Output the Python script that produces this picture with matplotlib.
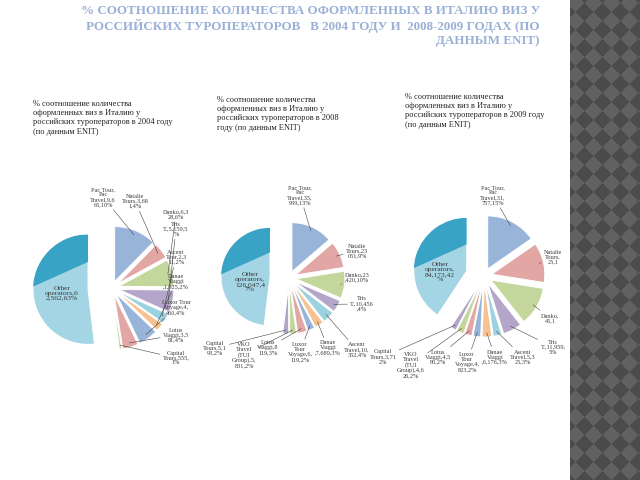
import numpy as np
import matplotlib.pyplot as plt
from matplotlib.patches import Polygon

plt.rcParams['font.family'] = ['Liberation Serif', 'DejaVu Serif']

"""-------------------------------- Data -----------------------------------------------"""

title = ('% СООТНОШЕНИЕ КОЛИЧЕСТВА ОФОРМЛЕННЫХ В ИТАЛИЮ ВИЗ У\n'
         'РОССИЙСКИХ ТУРОПЕРАТОРОВ   В 2004 ГОДУ И  2008-2009 ГОДАХ (ПО\n'
         'ДАННЫМ ENIT)')

header_2004 = ('% соотношение количества\nоформленных виз в Италию у\n'
               'российских туроператоров в 2004 году\n(по данным ENIT)')
header_2008 = ('% соотношение количества\nоформленных виз в Италию у\n'
               'российских туроператоров в 2008\nгоду (по данным ENIT)')
header_2009 = ('% соотношение количества\nоформленных виз в Италию у\n'
               'российских туроператоров в 2009 году\n(по данным ENIT)')

# clockwise from the top, "Other operators" last
values_2004 = [9665, 3681, 6328, 5159, 2311, 1925, 4460, 3581, 555, 40562]
labels_2004 = ['Pac Tour,\nPac\nTravel,9,6\n65,10%', 'Natalie\nTours,3,68\n1,4%',
               'Danko,6,3\n28,6%', 'Tris\nT.,5,159,5\n%', 'Ascent\nTour,2,3\n11,2%',
               'Danae\nViaggi\n,1,925,2%', 'Luxor Tour\nVoyage,4,\n460,4%',
               'Lotus\nViaggi,3,5\n81,4%', 'Capital\nTours,555,\n1%',
               'Other\noperators,6\n2,562,63%']

values_2008 = [35939, 23051, 23420, 10456, 10352, 7689, 6119, 8119, 5831, 5193, 126047]
labels_2008 = ['Pac Tour,\nPac\nTravel,35,\n939,13%', 'Natalie\nTours,23\n051,9%',
               'Danko,23\n,420,10%', 'Tris\nT.,10,456\n,4%', 'Ascent\nTravel,10,\n352,4%',
               'Danae\nViaggi\n,7,689,3%', 'Luxor\nTour\nVoyage,6,\n119,2%',
               'Lotus\nViaggi,8\n119,3%', 'VKO\nTravel\n(TUI\nGroup),5,\n831,2%',
               'Capital\nTours,5,1\n93,2%', 'Other\noperators,\n126,047,4\n7%']

values_2009 = [31757, 25145, 24510, 11959, 5325, 6176, 4823, 4580, 4626, 3712, 84173]
labels_2009 = ['Pac Tour,\nPac\nTravel,31,\n757,15%', 'Natalie\nTours,\n25,1',
               'Danko,\n45,1', 'Tris\nT.,11,959,\n5%', 'Ascent\nTravel,5,3\n25,3%',
               'Danae\nViaggi\n,6,176,3%', 'Luxor\nTour\nVoyage,4,\n823,2%',
               'Lotus\nViaggi,4,5\n80,2%', 'VKO\nTravel\n(TUI\nGroup),4,6\n26,2%',
               'Capital\nTours,3,71\n2%', 'Other\noperators,\n84,173,42\n%']

slice_colors = ['#98b4d9', '#e2a6a4', '#c3d79c', '#b4a5ca', '#9cd1e0',
                '#f7c192', '#98b4d9', '#e2a6a4', '#c3d79c', '#b4a5ca']
other_color = '#a3d5e4'
other_shade = '#38a3c4'

"""-------------------------------- Layout (pixels, y down) ----------------------------"""

W, H = 640, 480


def PY(y):
    return H - y


pos_2004 = [(103, 197), (135, 201), (176, 214), (176, 229), (176, 257), (176, 282),
            (176, 308), (176, 335), (176, 358)]
pos_2008 = [(300, 195), (357, 251), (357, 277), (362, 304), (357, 350), (328, 348),
            (300, 352), (268, 348), (244, 355), (215, 348)]
pos_2009 = [(493, 195), (553, 257), (550, 318), (553, 347), (523, 357), (495, 357),
            (467, 362), (438, 357), (411, 365), (383, 357)]

"""-------------------------------- Subroutines-----------------------------------------"""


def draw_pie(ax, values, labels, label_xy, other_xy, cx, cy, r, expl_other, expl_small):
    n = len(values)
    colors = slice_colors[:n - 1] + [other_color]
    explode = [expl_small] * (n - 1) + [expl_other]
    wedges, _ = ax.pie(values, colors=colors, explode=explode, startangle=90,
                       counterclock=False, center=(cx, PY(cy)), radius=r, frame=True,
                       wedgeprops=dict(edgecolor='white', linewidth=0.7))
    # darker upper part of the big slice
    w = wedges[-1]
    ox, oy = w.center
    shade = Polygon([(ox - r, oy + 0.05 * r), (ox, oy + 0.5 * r), (ox, oy + r),
                     (ox - r, oy + r)], closed=True, facecolor=other_shade,
                    edgecolor='none', zorder=w.get_zorder() + 0.1)
    ax.add_patch(shade)
    shade.set_clip_path(w)

    for w, lab, (lx, ly) in zip(wedges[:-1], labels[:-1], label_xy):
        mid = np.deg2rad((w.theta1 + w.theta2) / 2)
        px = w.center[0] + 0.92 * w.r * np.cos(mid)
        py = w.center[1] + 0.92 * w.r * np.sin(mid)
        ax.annotate(lab, xy=(px, py), xytext=(lx, PY(ly)), ha='center', va='center',
                    fontsize=4.5, color='#3a3a3a', linespacing=1.0,
                    arrowprops=dict(arrowstyle='-', color='#444444', lw=0.4,
                                    shrinkA=0, shrinkB=0))
    ax.text(other_xy[0], PY(other_xy[1]), labels[-1], ha='center', va='center',
            fontsize=5.4, color='#3a3a3a', linespacing=1.0)


"""-------------------------------- Main -----------------------------------------------"""

fig = plt.figure(figsize=(6.4, 4.8), dpi=100)
ax = fig.add_axes([0, 0, 1, 1])

draw_pie(ax, values_2004, labels_2004, pos_2004, (62, 293), 112, 288, 55, 24, 7)
draw_pie(ax, values_2008, labels_2008, pos_2008, (250, 282), 289, 278, 49, 19, 7)
draw_pie(ax, values_2009, labels_2009, pos_2009, (440, 272), 484, 276, 53, 18, 8)

ax.text(540, PY(5), title, ha='right', va='top', fontsize=9.4, fontweight='bold',
        color='#9ab0d6', linespacing=1.22)
ax.text(33, PY(100), header_2004, ha='left', va='top', fontsize=6, color='#222222',
        linespacing=1.2)
ax.text(217, PY(96), header_2008, ha='left', va='top', fontsize=6, color='#222222',
        linespacing=1.2)
ax.text(405, PY(93), header_2009, ha='left', va='top', fontsize=6, color='#222222',
        linespacing=1.2)

# dark patterned strip on the right of the slide
xs = np.arange(570, 640) + 0.5
ys = np.arange(0, 480) + 0.5
X, Y = np.meshgrid(xs, ys)
p = 18
cells = (np.floor((X + Y) / p) + np.floor((X - Y) / p)) % 2
dark = np.array([0x4b, 0x4b, 0x4b]) / 255
light = np.array([0x61, 0x61, 0x61]) / 255
rgb = np.where(cells[..., None] > 0, light, dark)
ax.imshow(rgb, extent=(570, 640, 0, 480), origin='lower', interpolation='nearest',
          zorder=10)

ax.set_xlim(0, W)
ax.set_ylim(0, H)
ax.axis('off')

plt.savefig('out.png', dpi=100)
plt.close()
